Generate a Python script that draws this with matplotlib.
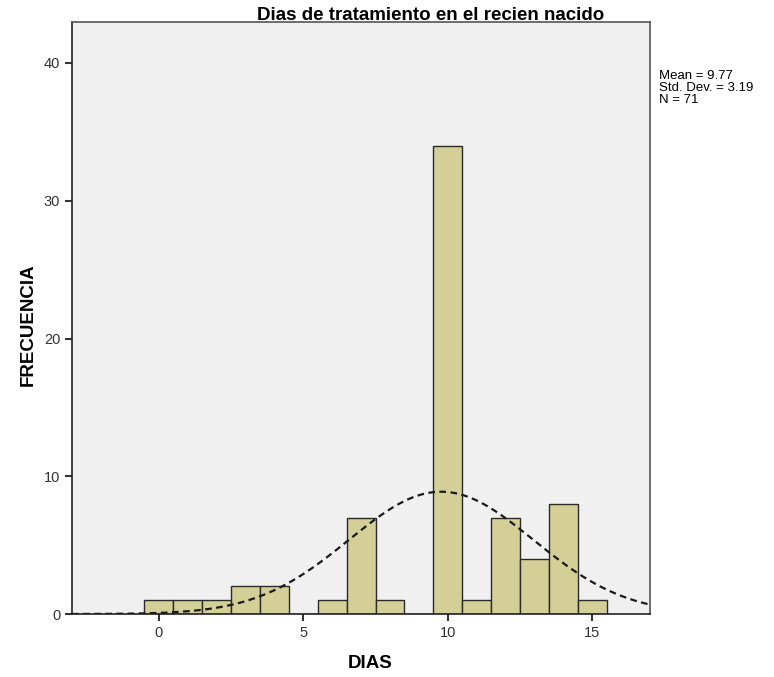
import numpy as np
import matplotlib.pyplot as plt

plt.rcParams['font.family'] = ['Liberation Sans', 'DejaVu Sans']

# days (bin centres) and frequencies
dias = [0, 1, 2, 3, 4, 5, 6, 7, 8, 9, 10, 11, 12, 13, 14, 15]
frecuencia = [1, 1, 1, 2, 2, 0, 1, 7, 1, 0, 34, 1, 7, 4, 8, 1]
media = 9.77
desv = 3.19
n = 71


def main():
    fig = plt.figure(figsize=(7.74, 6.77), dpi=100)
    ax = fig.add_axes([0.093, 0.093, 0.747, 0.875])
    ax.set_facecolor("#f0f0f0")

    ax.bar(dias, frecuencia, width=1.0, color="#d4cf97",
           edgecolor="#2b2b2b", linewidth=1.0, zorder=2)

    xs = np.linspace(-3, 17, 300)
    ys = n * 1.0 / (desv * np.sqrt(2 * np.pi)) * np.exp(-0.5 * ((xs - media) / desv) ** 2)
    ax.plot(xs, ys, color="#1a1a1a", linestyle=(0, (3, 2)), linewidth=1.6, zorder=3)

    ax.set_xlim(-3, 17)
    ax.set_ylim(0, 43)
    ax.set_xticks([0, 5, 10, 15])
    ax.set_yticks([0, 10, 20, 30, 40])
    ax.tick_params(axis="both", direction="out", length=5, width=1.5,
                   labelsize=10.5, labelcolor="#333333", color="#333333")
    for s in ax.spines.values():
        s.set_color("#555555")
        s.set_linewidth(1.2)
    ax.spines["left"].set_color("#222222")
    ax.spines["bottom"].set_color("#222222")

    fig.text(0.478, 0.020, "DIAS", ha="center", va="center",
             fontsize=13.5, fontweight="bold")
    fig.text(0.036, 0.52, "FRECUENCIA", ha="center", va="center",
             rotation=90, fontsize=13.5, fontweight="bold")

    fig.text(0.556, 0.977, "Dias de tratamiento en el recien nacido",
             ha="center", va="center", fontsize=13.5, fontweight="bold")
    fig.text(0.851, 0.896, "Mean = 9.77\nStd. Dev. = 3.19\nN = 71",
             ha="left", va="top", fontsize=9.5, linespacing=0.95)

    plt.savefig("out.png", dpi=100)


if __name__ == "__main__":
    main()
